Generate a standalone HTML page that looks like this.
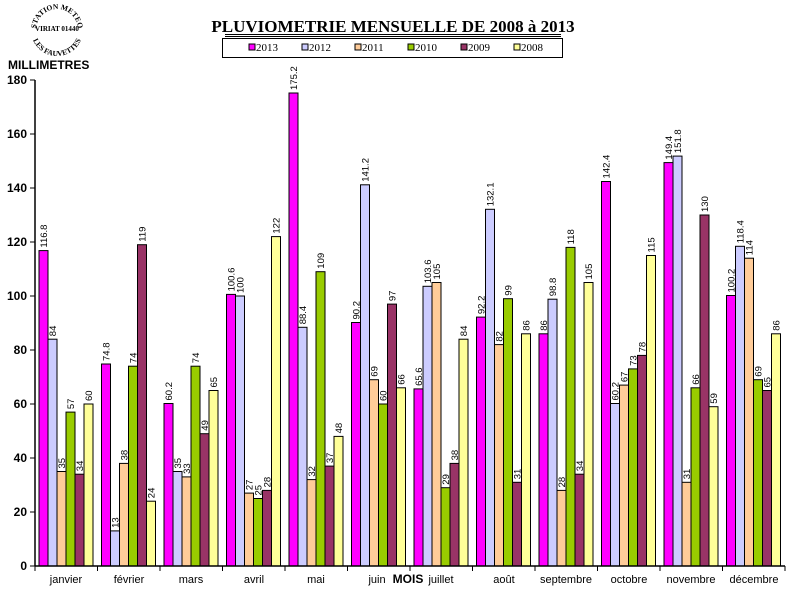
<!DOCTYPE html>
<html><head><meta charset="utf-8"><style>
body{margin:0;background:#fff}
svg{display:block}
.b{stroke:#000;stroke-width:1}
.l{font:9.5px "Liberation Sans",sans-serif;fill:#000}
.ax{font:bold 12px "Liberation Sans",sans-serif}
.m{font:11px "Liberation Sans",sans-serif}
</style></head><body>
<svg width="796" height="600" xmlns="http://www.w3.org/2000/svg">
<defs>
<path id="top" d="M36,30 A21,21 0 0 1 78,30"/>
<path id="bot" d="M31,30 A26,26 0 0 0 83,30"/>
</defs>
<text font-family="Liberation Serif,serif" font-weight="bold" font-size="7.5"><textPath href="#top" startOffset="50%" text-anchor="middle">STATION METEO</textPath></text>
<text x="57" y="31" text-anchor="middle" font-family="Liberation Serif,serif" font-weight="bold" font-size="7">VIRIAT 01440</text>
<text font-family="Liberation Serif,serif" font-weight="bold" font-size="7.5"><textPath href="#bot" startOffset="50%" text-anchor="middle">LES FAUVETTES</textPath></text>
<text x="8" y="69" class="ax">MILLIMETRES</text>

<text x="393" y="32" text-anchor="middle" font-family="Liberation Serif,serif" font-weight="bold" font-size="17">PLUVIOMETRIE MENSUELLE DE 2008 à 2013</text>
<line x1="225" y1="34.5" x2="561" y2="34.5" stroke="#000"/>
<line x1="225" y1="36.5" x2="561" y2="36.5" stroke="#000"/>
<rect x="222.5" y="38.5" width="340" height="19" fill="#fff" stroke="#000"/>
<g font-family="Liberation Serif,serif" font-size="11">
<rect x="249" y="44" width="6" height="6" fill="#FF00FF" stroke="#000"/><text x="256" y="51">2013</text>
<rect x="302" y="44" width="6" height="6" fill="#CCCCFF" stroke="#000"/><text x="309" y="51">2012</text>
<rect x="355" y="44" width="6" height="6" fill="#FFCC99" stroke="#000"/><text x="362" y="51">2011</text>
<rect x="408" y="44" width="6" height="6" fill="#99CC00" stroke="#000"/><text x="415" y="51">2010</text>
<rect x="461" y="44" width="6" height="6" fill="#993366" stroke="#000"/><text x="468" y="51">2009</text>
<rect x="514" y="44" width="6" height="6" fill="#FFFF99" stroke="#000"/><text x="521" y="51">2008</text>
</g>

<g class="ax" text-anchor="end">
<text x="27" y="570">0</text><text x="27" y="516">20</text><text x="27" y="462">40</text><text x="27" y="408">60</text><text x="27" y="354">80</text><text x="27" y="300">100</text><text x="27" y="246">120</text><text x="27" y="192">140</text><text x="27" y="138">160</text><text x="27" y="84">180</text>
</g>
<g stroke="#000">
<line x1="30" y1="566" x2="35" y2="566"/><line x1="30" y1="512" x2="35" y2="512"/><line x1="30" y1="458" x2="35" y2="458"/><line x1="30" y1="404" x2="35" y2="404"/><line x1="30" y1="350" x2="35" y2="350"/><line x1="30" y1="296" x2="35" y2="296"/><line x1="30" y1="242" x2="35" y2="242"/><line x1="30" y1="188" x2="35" y2="188"/><line x1="30" y1="134" x2="35" y2="134"/><line x1="30" y1="80" x2="35" y2="80"/>
</g>

<g class="b">
<rect x="39" y="250.6" width="9" height="315.4" fill="#FF00FF"/>
<rect x="48" y="339.2" width="9" height="226.8" fill="#CCCCFF"/>
<rect x="57" y="471.5" width="9" height="94.5" fill="#FFCC99"/>
<rect x="66" y="412.1" width="9" height="153.9" fill="#99CC00"/>
<rect x="75" y="474.2" width="9" height="91.8" fill="#993366"/>
<rect x="84" y="404" width="9" height="162" fill="#FFFF99"/>
<rect x="101.5" y="364" width="9" height="202" fill="#FF00FF"/>
<rect x="110.5" y="530.9" width="9" height="35.1" fill="#CCCCFF"/>
<rect x="119.5" y="463.4" width="9" height="102.6" fill="#FFCC99"/>
<rect x="128.5" y="366.2" width="9" height="199.8" fill="#99CC00"/>
<rect x="137.5" y="244.7" width="9" height="321.3" fill="#993366"/>
<rect x="146.5" y="501.2" width="9" height="64.8" fill="#FFFF99"/>
<rect x="164" y="403.5" width="9" height="162.5" fill="#FF00FF"/>
<rect x="173" y="471.5" width="9" height="94.5" fill="#CCCCFF"/>
<rect x="182" y="476.9" width="9" height="89.1" fill="#FFCC99"/>
<rect x="191" y="366.2" width="9" height="199.8" fill="#99CC00"/>
<rect x="200" y="433.7" width="9" height="132.3" fill="#993366"/>
<rect x="209" y="390.5" width="9" height="175.5" fill="#FFFF99"/>
<rect x="226.5" y="294.4" width="9" height="271.6" fill="#FF00FF"/>
<rect x="235.5" y="296" width="9" height="270" fill="#CCCCFF"/>
<rect x="244.5" y="493.1" width="9" height="72.9" fill="#FFCC99"/>
<rect x="253.5" y="498.5" width="9" height="67.5" fill="#99CC00"/>
<rect x="262.5" y="490.4" width="9" height="75.6" fill="#993366"/>
<rect x="271.5" y="236.6" width="9" height="329.4" fill="#FFFF99"/>
<rect x="289" y="93" width="9" height="473" fill="#FF00FF"/>
<rect x="298" y="327.3" width="9" height="238.7" fill="#CCCCFF"/>
<rect x="307" y="479.6" width="9" height="86.4" fill="#FFCC99"/>
<rect x="316" y="271.7" width="9" height="294.3" fill="#99CC00"/>
<rect x="325" y="466.1" width="9" height="99.9" fill="#993366"/>
<rect x="334" y="436.4" width="9" height="129.6" fill="#FFFF99"/>
<rect x="351.5" y="322.5" width="9" height="243.5" fill="#FF00FF"/>
<rect x="360.5" y="184.8" width="9" height="381.2" fill="#CCCCFF"/>
<rect x="369.5" y="379.7" width="9" height="186.3" fill="#FFCC99"/>
<rect x="378.5" y="404" width="9" height="162" fill="#99CC00"/>
<rect x="387.5" y="304.1" width="9" height="261.9" fill="#993366"/>
<rect x="396.5" y="387.8" width="9" height="178.2" fill="#FFFF99"/>
<rect x="414" y="388.9" width="9" height="177.1" fill="#FF00FF"/>
<rect x="423" y="286.3" width="9" height="279.7" fill="#CCCCFF"/>
<rect x="432" y="282.5" width="9" height="283.5" fill="#FFCC99"/>
<rect x="441" y="487.7" width="9" height="78.3" fill="#99CC00"/>
<rect x="450" y="463.4" width="9" height="102.6" fill="#993366"/>
<rect x="459" y="339.2" width="9" height="226.8" fill="#FFFF99"/>
<rect x="476.5" y="317.1" width="9" height="248.9" fill="#FF00FF"/>
<rect x="485.5" y="209.3" width="9" height="356.7" fill="#CCCCFF"/>
<rect x="494.5" y="344.6" width="9" height="221.4" fill="#FFCC99"/>
<rect x="503.5" y="298.7" width="9" height="267.3" fill="#99CC00"/>
<rect x="512.5" y="482.3" width="9" height="83.7" fill="#993366"/>
<rect x="521.5" y="333.8" width="9" height="232.2" fill="#FFFF99"/>
<rect x="539" y="333.8" width="9" height="232.2" fill="#FF00FF"/>
<rect x="548" y="299.2" width="9" height="266.8" fill="#CCCCFF"/>
<rect x="557" y="490.4" width="9" height="75.6" fill="#FFCC99"/>
<rect x="566" y="247.4" width="9" height="318.6" fill="#99CC00"/>
<rect x="575" y="474.2" width="9" height="91.8" fill="#993366"/>
<rect x="584" y="282.5" width="9" height="283.5" fill="#FFFF99"/>
<rect x="601.5" y="181.5" width="9" height="384.5" fill="#FF00FF"/>
<rect x="610.5" y="403.5" width="9" height="162.5" fill="#CCCCFF"/>
<rect x="619.5" y="385.1" width="9" height="180.9" fill="#FFCC99"/>
<rect x="628.5" y="368.9" width="9" height="197.1" fill="#99CC00"/>
<rect x="637.5" y="355.4" width="9" height="210.6" fill="#993366"/>
<rect x="646.5" y="255.5" width="9" height="310.5" fill="#FFFF99"/>
<rect x="664" y="162.6" width="9" height="403.4" fill="#FF00FF"/>
<rect x="673" y="156.1" width="9" height="409.9" fill="#CCCCFF"/>
<rect x="682" y="482.3" width="9" height="83.7" fill="#FFCC99"/>
<rect x="691" y="387.8" width="9" height="178.2" fill="#99CC00"/>
<rect x="700" y="215" width="9" height="351" fill="#993366"/>
<rect x="709" y="406.7" width="9" height="159.3" fill="#FFFF99"/>
<rect x="726.5" y="295.5" width="9" height="270.5" fill="#FF00FF"/>
<rect x="735.5" y="246.3" width="9" height="319.7" fill="#CCCCFF"/>
<rect x="744.5" y="258.2" width="9" height="307.8" fill="#FFCC99"/>
<rect x="753.5" y="379.7" width="9" height="186.3" fill="#99CC00"/>
<rect x="762.5" y="390.5" width="9" height="175.5" fill="#993366"/>
<rect x="771.5" y="333.8" width="9" height="232.2" fill="#FFFF99"/>
</g>

<g class="l">
<text transform="translate(47,247.6) rotate(-90)">116.8</text>
<text transform="translate(56,336.2) rotate(-90)">84</text>
<text transform="translate(65,468.5) rotate(-90)">35</text>
<text transform="translate(74,409.1) rotate(-90)">57</text>
<text transform="translate(83,471.2) rotate(-90)">34</text>
<text transform="translate(92,401) rotate(-90)">60</text>
<text transform="translate(109.5,361) rotate(-90)">74.8</text>
<text transform="translate(118.5,527.9) rotate(-90)">13</text>
<text transform="translate(127.5,460.4) rotate(-90)">38</text>
<text transform="translate(136.5,363.2) rotate(-90)">74</text>
<text transform="translate(145.5,241.7) rotate(-90)">119</text>
<text transform="translate(154.5,498.2) rotate(-90)">24</text>
<text transform="translate(172,400.5) rotate(-90)">60.2</text>
<text transform="translate(181,468.5) rotate(-90)">35</text>
<text transform="translate(190,473.9) rotate(-90)">33</text>
<text transform="translate(199,363.2) rotate(-90)">74</text>
<text transform="translate(208,430.7) rotate(-90)">49</text>
<text transform="translate(217,387.5) rotate(-90)">65</text>
<text transform="translate(234.5,291.4) rotate(-90)">100.6</text>
<text transform="translate(243.5,293) rotate(-90)">100</text>
<text transform="translate(252.5,490.1) rotate(-90)">27</text>
<text transform="translate(261.5,495.5) rotate(-90)">25</text>
<text transform="translate(270.5,487.4) rotate(-90)">28</text>
<text transform="translate(279.5,233.6) rotate(-90)">122</text>
<text transform="translate(297,90) rotate(-90)">175.2</text>
<text transform="translate(306,324.3) rotate(-90)">88.4</text>
<text transform="translate(315,476.6) rotate(-90)">32</text>
<text transform="translate(324,268.7) rotate(-90)">109</text>
<text transform="translate(333,463.1) rotate(-90)">37</text>
<text transform="translate(342,433.4) rotate(-90)">48</text>
<text transform="translate(359.5,319.5) rotate(-90)">90.2</text>
<text transform="translate(368.5,181.8) rotate(-90)">141.2</text>
<text transform="translate(377.5,376.7) rotate(-90)">69</text>
<text transform="translate(386.5,401) rotate(-90)">60</text>
<text transform="translate(395.5,301.1) rotate(-90)">97</text>
<text transform="translate(404.5,384.8) rotate(-90)">66</text>
<text transform="translate(422,385.9) rotate(-90)">65.6</text>
<text transform="translate(431,283.3) rotate(-90)">103.6</text>
<text transform="translate(440,279.5) rotate(-90)">105</text>
<text transform="translate(449,484.7) rotate(-90)">29</text>
<text transform="translate(458,460.4) rotate(-90)">38</text>
<text transform="translate(467,336.2) rotate(-90)">84</text>
<text transform="translate(484.5,314.1) rotate(-90)">92.2</text>
<text transform="translate(493.5,206.3) rotate(-90)">132.1</text>
<text transform="translate(502.5,341.6) rotate(-90)">82</text>
<text transform="translate(511.5,295.7) rotate(-90)">99</text>
<text transform="translate(520.5,479.3) rotate(-90)">31</text>
<text transform="translate(529.5,330.8) rotate(-90)">86</text>
<text transform="translate(547,330.8) rotate(-90)">86</text>
<text transform="translate(556,296.2) rotate(-90)">98.8</text>
<text transform="translate(565,487.4) rotate(-90)">28</text>
<text transform="translate(574,244.4) rotate(-90)">118</text>
<text transform="translate(583,471.2) rotate(-90)">34</text>
<text transform="translate(592,279.5) rotate(-90)">105</text>
<text transform="translate(609.5,178.5) rotate(-90)">142.4</text>
<text transform="translate(618.5,400.5) rotate(-90)">60.2</text>
<text transform="translate(627.5,382.1) rotate(-90)">67</text>
<text transform="translate(636.5,365.9) rotate(-90)">73</text>
<text transform="translate(645.5,352.4) rotate(-90)">78</text>
<text transform="translate(654.5,252.5) rotate(-90)">115</text>
<text transform="translate(672,159.6) rotate(-90)">149.4</text>
<text transform="translate(681,153.1) rotate(-90)">151.8</text>
<text transform="translate(690,479.3) rotate(-90)">31</text>
<text transform="translate(699,384.8) rotate(-90)">66</text>
<text transform="translate(708,212) rotate(-90)">130</text>
<text transform="translate(717,403.7) rotate(-90)">59</text>
<text transform="translate(734.5,292.5) rotate(-90)">100.2</text>
<text transform="translate(743.5,243.3) rotate(-90)">118.4</text>
<text transform="translate(752.5,255.2) rotate(-90)">114</text>
<text transform="translate(761.5,376.7) rotate(-90)">69</text>
<text transform="translate(770.5,387.5) rotate(-90)">65</text>
<text transform="translate(779.5,330.8) rotate(-90)">86</text>
</g>

<g stroke="#000" stroke-width="1.5">
<line x1="35" y1="80" x2="35" y2="566"/>
<line x1="35" y1="566" x2="785" y2="566"/>
</g>
<g stroke="#000">
<line x1="35" y1="566" x2="35" y2="571"/><line x1="97.5" y1="566" x2="97.5" y2="571"/><line x1="160" y1="566" x2="160" y2="571"/><line x1="222.5" y1="566" x2="222.5" y2="571"/><line x1="285" y1="566" x2="285" y2="571"/><line x1="347.5" y1="566" x2="347.5" y2="571"/><line x1="410" y1="566" x2="410" y2="571"/><line x1="472.5" y1="566" x2="472.5" y2="571"/><line x1="535" y1="566" x2="535" y2="571"/><line x1="597.5" y1="566" x2="597.5" y2="571"/><line x1="660" y1="566" x2="660" y2="571"/><line x1="722.5" y1="566" x2="722.5" y2="571"/><line x1="785" y1="566" x2="785" y2="571"/>
</g>
<g class="m" text-anchor="middle">
<text x="66" y="583">janvier</text><text x="129" y="583">février</text><text x="191" y="583">mars</text><text x="254" y="583">avril</text><text x="316" y="583">mai</text><text x="377" y="583">juin</text><text x="441" y="583">juillet</text><text x="504" y="583">août</text><text x="566" y="583">septembre</text><text x="629" y="583">octobre</text><text x="691" y="583">novembre</text><text x="754" y="583">décembre</text>
</g>
<text x="408" y="583" text-anchor="middle" class="ax" font-size="11">MOIS</text>
</svg>
</body></html>
